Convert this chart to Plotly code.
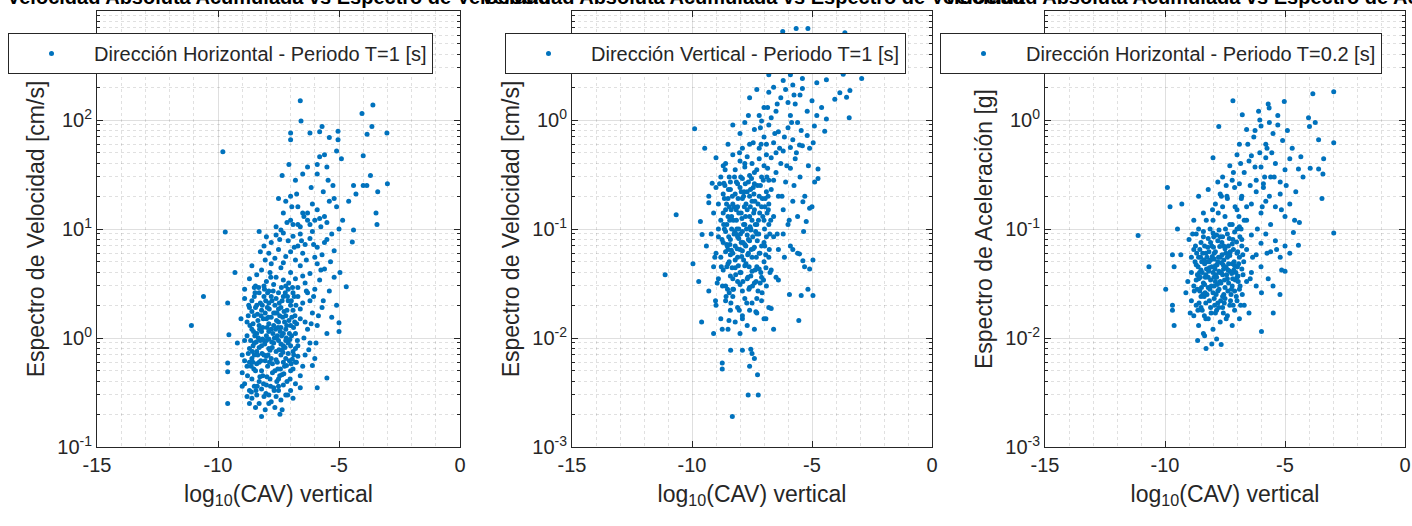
import plotly.graph_objects as go

# ---------------------------------------------------------------- data
# (log10(CAV) vertical, spectral ordinate) pairs for each panel
puntos_h_t1 = [
    (-6.6, 150), (-3.6, 137), (-4.05, 115), (-6.57, 98), (-3.64, 87), (-3.84, 74), (-3.02, 76),
    (-7.0, 76), (-7.0, 66), (-6.2, 76), (-5.8, 78), (-5.7, 87), (-5.04, 79), (-5.04, 66),
    (-5.4, 69), (-9.8, 51), (-5.1, 52), (-4.0, 47), (-5.8, 46), (-5.6, 48), (-4.9, 44),
    (-7.07, 39), (-6.3, 37), (-5.9, 39), (-5.5, 37), (-7.35, 31), (-6.8, 28), (-6.5, 32),
    (-5.9, 32), (-5.45, 28), (-4.4, 25), (-4.0, 25), (-3.85, 25), (-3.0, 26), (-3.4, 22),
    (-4.3, 21), (-3.7, 31), (-3.47, 14), (-3.43, 11), (-9.7, 9.4), (-4.4, 9.8), (-4.45, 7.6),
    (-10.6, 2.4), (-11.1, 1.3), (-9.3, 4.0), (-9.6, 2.1), (-9.55, 1.07), (-9.6, 0.59),
    (-9.6, 0.49), (-9.0, 0.48), (-9.6, 0.25), (-8.2, 0.19), (-7.44, 0.2), (-8.7, 0.25),
    (-7.9, 0.25), (-6.6, 0.35), (-5.9, 0.35), (-5.5, 0.43), (-6.1, 0.56), (-4.7, 2.95),
    (-4.96, 4.0), (-5.1, 2.0), (-5.0, 1.38), (-5.0, 1.15), (-5.3, 1.55),
    (-7.5, 19), (-7.2, 18), (-7.0, 20), (-6.7, 16), (-6.5, 14), (-6.3, 14), (-5.9, 15),
    (-5.6, 13), (-5.4, 18), (-5.2, 19), (-5.5, 11.5), (-5.8, 12.5), (-7.0, 12), (-6.9, 11),
    (-6.7, 11), (-7.6, 10.5), (-7.4, 9.8), (-6.6, 10.5), (-6.3, 12), (-6.0, 12), (-5.1, 16),
    (-6.1, 17), (-7.3, 14), (-6.2, 11), (-5.0, 10),
    (-8.3, 9.5), (-8.0, 8.5), (-7.8, 7.5), (-7.6, 8.8), (-7.3, 9.2), (-7.1, 7.8), (-6.9, 8.6),
    (-6.6, 9.0), (-6.4, 7.2), (-6.2, 8.2), (-5.9, 6.8), (-5.6, 7.5), (-5.3, 9.0), (-7.9, 6.0),
    (-7.5, 6.5), (-7.2, 5.6), (-6.8, 5.2), (-6.5, 6.0), (-6.0, 5.5), (-5.7, 5.8), (-5.2, 6.3),
    (-8.1, 7.0), (-7.0, 6.2), (-6.7, 7.0), (-6.1, 9.5), (-5.5, 8.0),
    (-8.6, 4.6), (-8.4, 3.8), (-8.2, 4.2), (-8.0, 3.3), (-7.8, 4.8), (-7.6, 3.6), (-7.4, 4.4),
    (-7.2, 3.0), (-7.0, 4.0), (-6.8, 3.5), (-6.6, 4.6), (-6.4, 3.2), (-6.2, 3.9), (-6.0, 2.8),
    (-5.8, 3.4), (-5.6, 4.3), (-5.4, 2.7), (-5.2, 3.6), (-8.5, 2.9), (-8.3, 2.6), (-7.9, 2.7),
    (-7.5, 2.6), (-7.3, 3.4), (-7.1, 2.8), (-6.9, 2.6), (-6.7, 2.9), (-6.3, 2.6), (-5.9, 4.8),
    (-8.1, 3.0), (-7.7, 3.1), (-7.3, 4.9), (-6.5, 3.7), (-8.7, 3.5), (-8.9, 2.8),
    (-8.9, 2.3), (-8.7, 1.9), (-8.6, 2.2), (-8.5, 1.6), (-8.4, 2.0), (-8.3, 1.3), (-8.2, 1.8),
    (-8.1, 2.4), (-8.0, 1.5), (-7.9, 2.1), (-7.8, 1.2), (-7.7, 1.7), (-7.6, 2.3), (-7.5, 1.4),
    (-7.4, 1.9), (-7.3, 1.1), (-7.2, 1.6), (-7.1, 2.2), (-7.0, 1.3), (-6.9, 1.8), (-6.8, 1.1),
    (-6.6, 1.5), (-6.5, 2.1), (-6.3, 1.2), (-6.1, 1.7), (-5.9, 1.3), (-5.7, 1.9), (-5.5, 1.1),
    (-8.8, 1.4), (-8.4, 1.1), (-8.0, 1.05), (-7.6, 1.0), (-7.4, 1.25), (-7.0, 2.0), (-6.7, 2.4),
    (-8.6, 1.2), (-8.2, 1.15), (-7.8, 2.4), (-7.3, 2.4), (-6.4, 1.4), (-8.5, 2.4), (-7.9, 1.35),
    (-7.5, 1.85), (-7.2, 1.2), (-6.2, 2.2),
    (-9.2, 0.9), (-9.0, 0.7), (-8.9, 0.95), (-8.8, 0.55), (-8.7, 0.8), (-8.6, 0.65), (-8.5, 0.9),
    (-8.45, 0.5), (-8.4, 0.75), (-8.3, 0.6), (-8.2, 0.85), (-8.15, 0.45), (-8.1, 0.7),
    (-8.0, 0.95), (-7.95, 0.55), (-7.9, 0.8), (-7.85, 0.42), (-7.8, 0.65), (-7.7, 0.9),
    (-7.65, 0.5), (-7.6, 0.75), (-7.55, 0.6), (-7.5, 0.95), (-7.45, 0.45), (-7.4, 0.7),
    (-7.3, 0.85), (-7.25, 0.55), (-7.2, 0.65), (-7.1, 0.9), (-7.0, 0.5), (-6.9, 0.75),
    (-6.8, 0.6), (-6.7, 0.85), (-6.5, 0.55), (-6.4, 0.7), (-6.2, 0.9), (-6.0, 0.65),
    (-8.6, 0.42), (-8.3, 0.4), (-7.9, 0.98), (-7.5, 0.42), (-7.15, 0.4), (-8.75, 0.72),
    (-8.05, 0.62), (-7.35, 0.78), (-7.75, 0.58), (-8.25, 0.95), (-8.55, 0.85), (-7.05, 0.62),
    (-6.6, 0.45),
    (-8.9, 0.38), (-8.7, 0.33), (-8.6, 0.28), (-8.5, 0.36), (-8.4, 0.3), (-8.3, 0.25),
    (-8.2, 0.34), (-8.1, 0.29), (-8.0, 0.37), (-7.9, 0.3), (-7.8, 0.26), (-7.7, 0.35),
    (-7.6, 0.29), (-7.5, 0.33), (-7.4, 0.27), (-7.3, 0.37), (-7.2, 0.3), (-7.0, 0.33),
    (-6.9, 0.28), (-8.8, 0.29), (-8.45, 0.23), (-7.65, 0.23), (-8.05, 0.22), (-7.35, 0.22),
    (-6.8, 0.38),
    (-8.75, 1.6), (-8.65, 0.95), (-8.55, 1.35), (-8.5, 0.7), (-8.45, 1.9), (-8.4, 0.58),
    (-8.35, 1.45), (-8.3, 0.82), (-8.25, 2.1), (-8.2, 0.5), (-8.15, 1.25), (-8.1, 0.95),
    (-8.05, 1.7), (-8.0, 0.68), (-7.95, 2.6), (-7.9, 1.15), (-7.85, 0.77), (-7.8, 1.55),
    (-7.75, 0.48), (-7.7, 1.3), (-7.65, 2.0), (-7.6, 0.63), (-7.55, 1.05), (-7.5, 0.36),
    (-7.45, 1.6), (-7.4, 0.88), (-7.35, 2.2), (-7.3, 0.6), (-7.25, 1.4), (-7.2, 0.95),
    (-7.15, 1.8), (-7.1, 0.72), (-7.05, 1.1), (-7.0, 0.85), (-6.95, 1.55), (-6.9, 0.52),
    (-6.85, 2.4), (-6.8, 0.8), (-6.75, 1.35), (-6.7, 0.68),
    (-8.7, 0.6), (-8.6, 1.75), (-8.48, 1.05), (-8.38, 0.36), (-8.28, 1.2), (-8.18, 0.72),
    (-8.08, 2.8), (-7.98, 0.44), (-7.88, 1.85), (-7.78, 0.92), (-7.68, 0.33), (-7.58, 1.45),
    (-7.48, 0.78), (-7.38, 2.9), (-7.28, 0.47), (-7.18, 1.0), (-7.08, 3.2), (-6.98, 0.58),
    (-6.88, 1.25), (-6.78, 2.0),
    (-8.62, 0.32), (-8.42, 0.92), (-8.22, 1.6), (-8.02, 0.31), (-7.82, 3.6), (-7.62, 1.2),
    (-7.42, 0.52), (-7.22, 2.6), (-7.02, 0.42), (-6.82, 1.6), (-8.52, 0.52), (-8.32, 2.9),
    (-8.12, 0.38), (-7.92, 1.55), (-7.72, 2.7), (-7.52, 1.25), (-7.32, 0.74), (-7.12, 0.3),
    (-6.92, 2.9), (-6.72, 0.95),
    (-8.8, 1.05), (-8.9, 0.62), (-9.05, 1.5), (-9.0, 0.36), (-6.6, 1.85), (-6.45, 1.0),
    (-6.35, 2.7), (-6.25, 0.78), (-6.15, 1.35), (-6.05, 2.4), (-5.95, 0.9), (-5.85, 1.6),
    (-5.75, 4.2), (-5.65, 2.2), (-6.35, 5.2), (-6.55, 7.8), (-6.85, 6.8), (-7.15, 11.5),
    (-7.45, 8.0), (-7.65, 5.4), (-7.85, 4.0), (-8.05, 5.2), (-8.25, 6.2), (-8.45, 3.0),
    (-6.05, 7.2), (-5.75, 10.5), (-5.35, 5.0), (-6.45, 13), (-6.95, 16), (-5.65, 22),
    (-6.15, 24), (-6.75, 21), (-5.25, 25), (-4.85, 12), (-4.6, 18),
]
nucleo_h_t1 = [
    (-8.78, 0.45), (-8.68, 1.3), (-8.58, 0.75), (-8.47, 2.6), (-8.37, 1.65), (-8.27, 0.44),
    (-8.17, 2.0), (-8.07, 0.88), (-7.97, 1.25), (-7.87, 0.6), (-7.77, 2.2), (-7.67, 1.0),
    (-7.57, 0.4), (-7.47, 2.1), (-7.37, 1.05), (-7.27, 1.75), (-7.17, 0.56), (-7.07, 1.45),
    (-6.97, 2.2), (-6.87, 0.7),
    (-8.73, 2.0), (-8.63, 0.55), (-8.53, 1.15), (-8.43, 0.33), (-8.33, 1.0), (-8.23, 0.62),
    (-8.13, 1.5), (-8.03, 2.2), (-7.93, 0.7), (-7.83, 0.36), (-7.73, 1.1), (-7.63, 1.7),
    (-7.53, 0.52), (-7.43, 1.15), (-7.33, 1.55), (-7.23, 0.82), (-7.13, 2.4), (-7.03, 0.97),
    (-6.93, 0.64), (-6.83, 1.4),
    (-8.56, 0.6), (-8.36, 0.7), (-8.16, 0.98), (-7.96, 1.9), (-7.76, 0.82), (-7.56, 1.7),
    (-7.36, 0.46), (-7.16, 1.3), (-6.96, 1.05), (-6.76, 0.6),
]

puntos_v_t1 = [
    (-8.32, 0.0019), (-7.66, 0.003), (-7.24, 0.003), (-7.27, 0.0046), (-7.6, 0.0055),
    (-8.74, 0.0059), (-8.74, 0.0052), (-8.39, 0.0077), (-7.9, 0.0077), (-7.5, 0.0072),
    (-7.55, 0.0079), (-7.4, 0.0065), (-9.6, 0.014), (-9.1, 0.011), (-8.74, 0.012),
    (-8.46, 0.0145), (-7.9, 0.015), (-7.34, 0.0174), (-6.92, 0.015), (-6.7, 0.0186),
    (-5.55, 0.0145), (-5.94, 0.025), (-5.45, 0.0245), (-5.17, 0.028), (-4.96, 0.0245),
    (-11.12, 0.038), (-10.66, 0.135), (-9.96, 0.048), (-9.72, 0.033), (-9.3, 0.027),
    (-9.02, 0.022), (-9.89, 0.83), (-9.47, 0.55), (-9.58, 0.089), (-9.65, 0.117), (-9.3, 0.174),
    (-9.16, 0.263), (-8.67, 0.263), (-5.31, 0.045), (-5.1, 0.043), (-4.96, 0.052),
    (-5.38, 0.051), (-5.8, 0.065), (-5.52, 0.059), (-4.75, 0.29), (-4.75, 0.355), (-4.89, 0.27),
    (-5.38, 0.178), (-5.1, 0.155), (-5.24, 0.117), (-5.52, 0.59), (-5.1, 0.55), (-4.47, 0.79),
    (-4.4, 1.02), (-3.45, 1.05), (-2.93, 2.4), (-3.42, 1.86), (-4.05, 1.55), (-3.56, 1.62),
    (-3.84, 1.78), (-4.4, 2.34), (-3.7, 2.63), (-3.2, 3.0), (-4.26, 3.1), (-4.12, 3.8),
    (-3.91, 4.5), (-5.66, 6.9), (-5.17, 6.9), (-3.63, 6.3), (-6.22, 6.5),
    (-7.0, 3.6), (-6.6, 4.1), (-6.3, 3.2), (-6.0, 3.5), (-5.9, 2.6), (-5.6, 3.0), (-5.3, 3.9),
    (-5.0, 4.3), (-5.4, 2.4), (-5.8, 2.1), (-6.2, 2.3), (-6.6, 2.0), (-7.1, 2.8), (-4.8, 2.2),
    (-4.6, 3.1), (-6.8, 2.6), (-5.1, 2.9),
    (-7.6, 1.6), (-7.3, 1.9), (-7.0, 1.3), (-6.8, 1.8), (-6.5, 1.2), (-6.3, 1.6), (-6.1, 1.9),
    (-5.9, 1.1), (-5.7, 1.4), (-5.5, 1.7), (-5.2, 1.2), (-5.0, 1.5), (-4.8, 1.1), (-6.7, 1.05),
    (-7.2, 1.1), (-6.0, 1.45), (-5.4, 1.95), (-4.6, 1.3),
    (-8.3, 0.9), (-8.0, 0.75), (-7.8, 0.95), (-7.6, 0.6), (-7.4, 0.82), (-7.2, 0.55), (-7.0, 0.7),
    (-6.8, 0.9), (-6.6, 0.62), (-6.4, 0.78), (-6.2, 0.52), (-6.0, 0.85), (-5.8, 0.66),
    (-5.6, 0.95), (-5.4, 0.58), (-5.2, 0.72), (-4.9, 0.88), (-7.9, 0.55), (-7.1, 0.98),
    (-6.5, 0.5), (-5.9, 0.56), (-8.5, 0.6), (-6.9, 0.6),
    (-9.0, 0.45), (-8.8, 0.3), (-8.6, 0.4), (-8.4, 0.27), (-8.3, 0.48), (-8.2, 0.35), (-8.0, 0.42),
    (-7.9, 0.29), (-7.8, 0.37), (-7.7, 0.46), (-7.6, 0.31), (-7.5, 0.4), (-7.4, 0.26),
    (-7.3, 0.35), (-7.2, 0.44), (-7.1, 0.3), (-7.0, 0.38), (-6.8, 0.28), (-6.7, 0.45),
    (-6.5, 0.33), (-6.3, 0.4), (-6.1, 0.27), (-5.9, 0.36), (-5.7, 0.44), (-5.5, 0.3),
    (-8.1, 0.26), (-7.65, 0.27), (-6.9, 0.48), (-8.7, 0.38),
    (-9.3, 0.2), (-9.1, 0.14), (-9.0, 0.24), (-8.9, 0.17), (-8.8, 0.12), (-8.7, 0.21), (-8.6, 0.15),
    (-8.55, 0.11), (-8.5, 0.19), (-8.4, 0.23), (-8.35, 0.13), (-8.3, 0.17), (-8.2, 0.21),
    (-8.15, 0.12), (-8.1, 0.16), (-8.0, 0.24), (-7.95, 0.14), (-7.9, 0.19), (-7.8, 0.11),
    (-7.75, 0.17), (-7.7, 0.22), (-7.6, 0.13), (-7.5, 0.18), (-7.45, 0.24), (-7.4, 0.15),
    (-7.3, 0.11), (-7.2, 0.2), (-7.1, 0.16), (-7.0, 0.12), (-6.9, 0.22), (-6.8, 0.17),
    (-6.6, 0.13), (-6.4, 0.2), (-6.2, 0.15), (-6.0, 0.11), (-5.8, 0.18), (-5.6, 0.13),
    (-5.3, 0.2), (-5.0, 0.16), (-8.65, 0.1), (-8.05, 0.1), (-7.55, 0.1), (-8.45, 0.16),
    (-7.85, 0.2),
    (-9.4, 0.07), (-9.2, 0.09), (-9.0, 0.06), (-8.9, 0.085), (-8.8, 0.055), (-8.7, 0.075),
    (-8.6, 0.095), (-8.5, 0.065), (-8.45, 0.05), (-8.4, 0.08), (-8.3, 0.06), (-8.25, 0.09),
    (-8.2, 0.07), (-8.1, 0.055), (-8.05, 0.082), (-8.0, 0.065), (-7.9, 0.095), (-7.85, 0.052),
    (-7.8, 0.072), (-7.7, 0.088), (-7.65, 0.06), (-7.6, 0.078), (-7.5, 0.055), (-7.4, 0.068),
    (-7.3, 0.09), (-7.2, 0.06), (-7.0, 0.075), (-6.8, 0.055), (-6.6, 0.085), (-6.4, 0.065),
    (-6.2, 0.09), (-5.9, 0.07), (-5.6, 0.06), (-8.55, 0.072), (-7.95, 0.075), (-7.55, 0.098),
    (-9.1, 0.045), (-8.9, 0.035), (-8.7, 0.042), (-8.6, 0.03), (-8.5, 0.048), (-8.4, 0.037),
    (-8.3, 0.028), (-8.2, 0.044), (-8.1, 0.033), (-8.0, 0.04), (-7.9, 0.027), (-7.8, 0.046),
    (-7.7, 0.035), (-7.6, 0.029), (-7.5, 0.041), (-7.4, 0.032), (-7.3, 0.045), (-7.1, 0.036),
    (-6.9, 0.03), (-6.7, 0.042), (-6.4, 0.034), (-8.45, 0.026), (-7.25, 0.027),
    (-9.0, 0.02), (-8.8, 0.015), (-8.6, 0.022), (-8.5, 0.012), (-8.4, 0.018), (-8.3, 0.024),
    (-8.2, 0.014), (-8.1, 0.019), (-8.0, 0.011), (-7.9, 0.016), (-7.8, 0.023), (-7.7, 0.013),
    (-7.6, 0.018), (-7.5, 0.021), (-7.4, 0.012), (-7.3, 0.017), (-7.1, 0.022), (-7.0, 0.015),
    (-6.8, 0.019), (-6.6, 0.012),
    (-8.75, 0.08), (-8.65, 0.19), (-8.55, 0.045), (-8.5, 0.13), (-8.45, 0.3), (-8.4, 0.058),
    (-8.35, 0.1), (-8.3, 0.035), (-8.25, 0.16), (-8.2, 0.052), (-8.15, 0.27), (-8.1, 0.085),
    (-8.05, 0.14), (-8.0, 0.031), (-7.95, 0.22), (-7.9, 0.063), (-7.85, 0.11), (-7.8, 0.4),
    (-7.75, 0.048), (-7.7, 0.15), (-7.65, 0.08), (-7.6, 0.2), (-7.55, 0.037), (-7.5, 0.12),
    (-7.45, 0.066), (-7.4, 0.33), (-7.35, 0.095), (-7.3, 0.023), (-7.25, 0.17), (-7.2, 0.043),
    (-7.15, 0.25), (-7.1, 0.07), (-7.05, 0.13), (-7.0, 0.05), (-6.95, 0.19), (-6.9, 0.085),
    (-6.85, 0.36), (-6.8, 0.11), (-6.75, 0.04), (-6.7, 0.23),
    (-8.7, 0.14), (-8.6, 0.062), (-8.48, 0.23), (-8.38, 0.021), (-8.28, 0.12), (-8.18, 0.038),
    (-8.08, 0.19), (-7.98, 0.09), (-7.88, 0.033), (-7.78, 0.26), (-7.68, 0.058), (-7.58, 0.105),
    (-7.48, 0.03), (-7.38, 0.18), (-7.28, 0.078), (-7.18, 0.14), (-7.08, 0.026), (-6.98, 0.1),
    (-6.88, 0.3), (-6.78, 0.065),
    (-8.62, 0.35), (-8.42, 0.072), (-8.22, 0.095), (-8.02, 0.5), (-7.82, 0.16), (-7.62, 0.045),
    (-7.42, 0.21), (-7.22, 0.09), (-7.02, 0.034), (-6.82, 0.15), (-8.52, 0.028), (-8.32, 0.2),
    (-8.12, 0.066), (-7.92, 0.125), (-7.72, 0.021), (-7.52, 0.29), (-7.32, 0.055), (-7.12, 0.6),
    (-6.92, 0.044), (-6.72, 0.12),
    (-8.9, 0.1), (-9.05, 0.055), (-8.85, 0.26), (-8.95, 0.032), (-6.6, 0.28), (-6.45, 0.09),
    (-6.35, 0.55), (-6.25, 0.2), (-6.15, 0.7), (-6.05, 0.38), (-5.95, 0.12), (-5.85, 0.95),
    (-5.75, 0.25), (-5.65, 0.5), (-6.55, 0.75), (-6.85, 1.3), (-7.15, 0.85), (-7.45, 0.62),
    (-7.65, 1.1), (-6.45, 1.4), (-6.25, 2.8), (-5.75, 1.7), (-5.45, 0.8), (-5.55, 4.0),
    (-6.05, 4.8), (-4.95, 0.62), (-5.15, 0.38), (-5.35, 0.095), (-6.15, 0.055), (-6.5, 0.036),
]
nucleo_v_t1 = [
    (-8.78, 0.045), (-8.68, 0.11), (-8.58, 0.024), (-8.47, 0.085), (-8.37, 0.15), (-8.27, 0.028),
    (-8.17, 0.09), (-8.07, 0.046), (-7.97, 0.3), (-7.87, 0.075), (-7.77, 0.13), (-7.67, 0.036),
    (-7.57, 0.16), (-7.47, 0.085), (-7.37, 0.042), (-7.27, 0.25), (-7.17, 0.06), (-7.07, 0.19),
    (-6.97, 0.07), (-6.87, 0.14),
    (-8.73, 0.03), (-8.63, 0.25), (-8.53, 0.07), (-8.43, 0.12), (-8.33, 0.044), (-8.23, 0.3),
    (-8.13, 0.1), (-8.03, 0.018), (-7.93, 0.056), (-7.83, 0.22), (-7.73, 0.1), (-7.63, 0.028),
    (-7.53, 0.065), (-7.43, 0.14), (-7.33, 0.033), (-7.23, 0.12), (-7.13, 0.04), (-7.03, 0.28),
    (-6.93, 0.058), (-6.83, 0.2),
    (-8.56, 0.17), (-8.36, 0.064), (-8.16, 0.15), (-7.96, 0.04), (-7.76, 0.07), (-7.56, 0.23),
    (-7.36, 0.11), (-7.16, 0.032), (-6.96, 0.16), (-6.76, 0.09),
]

puntos_h_t02 = [
    (-7.17, 1.5), (-5.7, 1.4), (-5.03, 1.48), (-6.78, 1.12), (-5.66, 1.29), (-4.02, 1.05),
    (-3.84, 1.74), (-2.97, 1.82), (-6.1, 1.2), (-5.3, 1.1),
    (-7.76, 0.87), (-3.74, 0.95), (-3.98, 0.87), (-3.6, 0.66), (-2.97, 0.62), (-6.6, 0.82),
    (-6.3, 0.7), (-6.0, 0.88), (-5.8, 0.6), (-5.5, 0.75), (-5.3, 0.9), (-5.1, 0.65), (-4.9, 0.8),
    (-6.9, 0.6), (-5.65, 0.95), (-4.7, 0.55),
    (-3.39, 0.44), (-3.42, 0.32), (-4.44, 0.355), (-3.95, 0.36), (-3.6, 0.355), (-4.34, 0.46),
    (-8.0, 0.45), (-7.6, 0.3), (-7.3, 0.38), (-7.0, 0.48), (-6.7, 0.33), (-6.5, 0.42),
    (-6.2, 0.28), (-6.0, 0.37), (-5.8, 0.45), (-5.6, 0.3), (-5.4, 0.4), (-5.2, 0.27), (-5.0, 0.35),
    (-4.8, 0.44), (-7.8, 0.27), (-6.9, 0.26), (-6.4, 0.47), (-5.9, 0.26), (-7.2, 0.28),
    (-9.9, 0.24), (-9.79, 0.16), (-9.3, 0.17), (-9.48, 0.1), (-3.46, 0.19), (-8.6, 0.2),
    (-8.4, 0.14), (-8.2, 0.23), (-8.0, 0.12), (-7.9, 0.17), (-7.7, 0.21), (-7.5, 0.13),
    (-7.4, 0.19), (-7.2, 0.11), (-7.1, 0.24), (-7.0, 0.15), (-6.8, 0.2), (-6.6, 0.12),
    (-6.4, 0.17), (-6.2, 0.22), (-6.0, 0.14), (-5.8, 0.18), (-5.6, 0.11), (-5.4, 0.16),
    (-5.2, 0.21), (-5.0, 0.13), (-4.8, 0.17), (-4.6, 0.12), (-8.8, 0.12), (-7.6, 0.16),
    (-6.9, 0.105), (-5.9, 0.24), (-4.65, 0.093), (-4.4, 0.115),
    (-9.69, 0.058), (-9.34, 0.058), (-11.12, 0.087), (-4.44, 0.071), (-2.97, 0.092),
    (-9.0, 0.08), (-8.8, 0.065), (-8.7, 0.09), (-8.6, 0.055), (-8.5, 0.075), (-8.4, 0.095),
    (-8.3, 0.06), (-8.2, 0.082), (-8.1, 0.052), (-8.05, 0.07), (-8.0, 0.092), (-7.9, 0.062),
    (-7.8, 0.078), (-7.75, 0.098), (-7.7, 0.055), (-7.6, 0.085), (-7.5, 0.066), (-7.4, 0.09),
    (-7.3, 0.057), (-7.2, 0.073), (-7.1, 0.094), (-7.0, 0.06), (-6.8, 0.08), (-6.6, 0.065),
    (-6.4, 0.088), (-6.2, 0.058), (-6.0, 0.074), (-5.8, 0.09), (-5.6, 0.062), (-5.4, 0.078),
    (-5.2, 0.055), (-5.0, 0.07), (-4.8, 0.06), (-8.35, 0.07), (-7.85, 0.088), (-7.55, 0.052),
    (-7.95, 0.053),
    (-10.67, 0.045), (-9.62, 0.045), (-9.97, 0.028), (-9.13, 0.026), (-5.14, 0.042),
    (-5.0, 0.041), (-5.98, 0.026), (-5.21, 0.025),
    (-8.9, 0.04), (-8.8, 0.03), (-8.7, 0.047), (-8.6, 0.035), (-8.55, 0.027), (-8.5, 0.042),
    (-8.4, 0.032), (-8.35, 0.048), (-8.3, 0.038), (-8.2, 0.029), (-8.15, 0.044), (-8.1, 0.034),
    (-8.0, 0.04), (-7.95, 0.03), (-7.9, 0.046), (-7.85, 0.036), (-7.8, 0.027), (-7.75, 0.041),
    (-7.7, 0.033), (-7.65, 0.049), (-7.6, 0.038), (-7.5, 0.029), (-7.45, 0.044), (-7.4, 0.035),
    (-7.3, 0.041), (-7.2, 0.03), (-7.1, 0.046), (-7.0, 0.036), (-6.9, 0.028), (-6.8, 0.043),
    (-6.6, 0.033), (-6.4, 0.04), (-6.2, 0.03), (-6.0, 0.045), (-5.7, 0.035), (-5.5, 0.03),
    (-8.25, 0.025), (-7.55, 0.025), (-8.65, 0.038), (-7.35, 0.048),
    (-9.69, 0.02), (-9.69, 0.018), (-9.62, 0.013), (-8.64, 0.0095), (-8.29, 0.008),
    (-7.66, 0.0087), (-5.98, 0.0115), (-5.49, 0.017),
    (-8.9, 0.022), (-8.8, 0.016), (-8.7, 0.02), (-8.6, 0.013), (-8.5, 0.024), (-8.45, 0.018),
    (-8.4, 0.011), (-8.3, 0.021), (-8.2, 0.015), (-8.1, 0.019), (-8.0, 0.012), (-7.95, 0.023),
    (-7.9, 0.017), (-7.8, 0.021), (-7.7, 0.014), (-7.6, 0.019), (-7.5, 0.023), (-7.4, 0.016),
    (-7.3, 0.02), (-7.2, 0.013), (-7.1, 0.018), (-7.0, 0.022), (-6.9, 0.015), (-6.7, 0.02),
    (-6.5, 0.017), (-8.35, 0.0105), (-7.85, 0.0098), (-8.05, 0.0088),
    (-8.75, 0.05), (-8.65, 0.028), (-8.55, 0.065), (-8.5, 0.019), (-8.45, 0.04), (-8.4, 0.085),
    (-8.35, 0.031), (-8.3, 0.015), (-8.25, 0.055), (-8.2, 0.036), (-8.15, 0.022), (-8.1, 0.075),
    (-8.05, 0.045), (-8.0, 0.026), (-7.95, 0.06), (-7.9, 0.033), (-7.85, 0.018), (-7.8, 0.05),
    (-7.75, 0.028), (-7.7, 0.085), (-7.65, 0.04), (-7.6, 0.024), (-7.55, 0.07), (-7.5, 0.045),
    (-7.45, 0.015), (-7.4, 0.055), (-7.35, 0.032), (-7.3, 0.11), (-7.25, 0.025), (-7.2, 0.048),
    (-7.15, 0.065), (-7.1, 0.027), (-7.05, 0.04), (-7.0, 0.1), (-6.95, 0.033), (-6.9, 0.055),
    (-6.85, 0.02), (-6.8, 0.07), (-6.75, 0.038), (-6.7, 0.12),
    (-8.7, 0.034), (-8.6, 0.1), (-8.48, 0.029), (-8.38, 0.052), (-8.28, 0.12), (-8.18, 0.041),
    (-8.08, 0.017), (-7.98, 0.068), (-7.88, 0.038), (-7.78, 0.14), (-7.68, 0.022), (-7.58, 0.047),
    (-7.48, 0.1), (-7.38, 0.027), (-7.28, 0.062), (-7.18, 0.035), (-7.08, 0.16), (-6.98, 0.045),
    (-6.88, 0.085), (-6.78, 0.025),
    (-8.62, 0.045), (-8.42, 0.025), (-8.22, 0.068), (-8.02, 0.15), (-7.82, 0.031), (-7.62, 0.058),
    (-7.42, 0.2), (-7.22, 0.039), (-7.02, 0.076), (-6.82, 0.19), (-8.52, 0.055), (-8.32, 0.036),
    (-8.12, 0.1), (-7.92, 0.043), (-7.72, 0.069), (-7.52, 0.034), (-7.32, 0.082), (-7.12, 0.05),
    (-6.92, 0.13), (-6.72, 0.05),
    (-8.9, 0.055), (-9.05, 0.033), (-8.85, 0.09), (-8.95, 0.017), (-6.6, 0.16), (-6.45, 0.25),
    (-6.35, 0.055), (-6.25, 0.37), (-6.15, 0.1), (-6.05, 0.5), (-5.95, 0.16), (-5.85, 0.3),
    (-5.75, 0.06), (-5.65, 0.2), (-6.55, 0.6), (-6.85, 0.4), (-7.15, 0.33), (-7.45, 0.25),
    (-7.65, 0.2), (-6.45, 0.035), (-6.25, 0.8), (-5.75, 0.55), (-5.45, 0.3), (-5.55, 0.5),
    (-6.05, 1.0), (-4.95, 0.25), (-5.15, 0.15), (-5.35, 0.065), (-4.55, 0.22), (-4.25, 0.3),
]
nucleo_h_t02 = [
    (-8.78, 0.027), (-8.68, 0.06), (-8.58, 0.021), (-8.47, 0.05), (-8.37, 0.024), (-8.27, 0.043),
    (-8.17, 0.062), (-8.07, 0.03), (-7.97, 0.085), (-7.87, 0.025), (-7.77, 0.055), (-7.67, 0.032),
    (-7.57, 0.017), (-7.47, 0.06), (-7.37, 0.042), (-7.27, 0.022), (-7.17, 0.08), (-7.07, 0.034),
    (-6.97, 0.062), (-6.87, 0.03),
    (-8.73, 0.07), (-8.63, 0.018), (-8.53, 0.036), (-8.43, 0.06), (-8.33, 0.026), (-8.23, 0.05),
    (-8.13, 0.028), (-8.03, 0.056), (-7.93, 0.02), (-7.83, 0.047), (-7.73, 0.04), (-7.63, 0.075),
    (-7.53, 0.021), (-7.43, 0.038), (-7.33, 0.06), (-7.23, 0.028), (-7.13, 0.042), (-7.03, 0.024),
    (-6.93, 0.048), (-6.83, 0.1),
    (-8.56, 0.04), (-8.36, 0.016), (-8.16, 0.05), (-7.96, 0.036), (-7.76, 0.019), (-7.56, 0.043),
    (-7.36, 0.07), (-7.16, 0.02), (-6.96, 0.037), (-6.76, 0.058),
]

titulos = [
    "Velocidad Absoluta Acumulada vs Espectro de Velocidad",
    "Velocidad Absoluta Acumulada vs Espectro de Velocidad",
    "Velocidad Absoluta Acumulada vs Espectro de Aceleración",
]
leyendas = [
    "Dirección Horizontal - Periodo T=1 [s]",
    "Dirección Vertical - Periodo T=1 [s]",
    "Dirección Horizontal - Periodo T=0.2 [s]",
]
etiquetas_y = [
    "Espectro de Velocidad [cm/s]",
    "Espectro de Velocidad [cm/s]",
    "Espectro de Aceleración [g]",
]
etiqueta_x = "log<sub>10</sub>(CAV) vertical"

cav_ticks = [-15, -10, -5, 0]
cav_tick_text = ["-15", "-10", "-5", "0"]
exp_h_t1 = [-1, 0, 1, 2, 3]
exp_otros = [-3, -2, -1, 0, 1]

# ---------------------------------------------------------------- layout
W, H = 1412, 526
AZUL = "#0072BD"
TEXTO = "#262626"
FUENTE = "Liberation Sans, Arial, Helvetica, sans-serif"

# panel frames in pixels: (left, right)
marcos = [(97, 460), (572, 932), (1045, 1405)]
top_px, bottom_px = 11, 447
leg_left_px = [8, 505, 940]

series = [puntos_h_t1 + nucleo_h_t1, puntos_v_t1 + nucleo_v_t1, puntos_h_t02 + nucleo_h_t02]
exponentes = [exp_h_t1, exp_otros, exp_otros]

fig = go.Figure()

for i, (pts, exps) in enumerate(zip(series, exponentes)):
    n = "" if i == 0 else str(i + 1)
    fig.add_trace(go.Scatter(
        x=[p[0] for p in pts],
        y=[p[1] for p in pts],
        mode="markers",
        marker=dict(color=AZUL, size=5, line=dict(width=0)),
        name=leyendas[i],
        xaxis="x" + n,
        yaxis="y" + n,
        legend="legend" + n,
        showlegend=True,
    ))

    left, right = marcos[i]
    dom_x = [left / W, right / W]
    dom_y = [1 - bottom_px / H, 1 - top_px / H]

    x_minor = [v for v in range(-14, 0) if v % 5 != 0]
    y_major = [10.0 ** e for e in exps]
    y_minor = [k * 10.0 ** e for e in exps[:-1] for k in range(2, 10)]
    y_text = ["10<sup>%d</sup>" % e for e in exps]

    ejes_comunes = dict(
        showline=True, linecolor=TEXTO, linewidth=1, mirror="allticks",
        ticks="inside", ticklen=6, tickcolor=TEXTO, tickwidth=1,
        showgrid=True, gridcolor="rgba(38,38,38,0.15)", gridwidth=1,
        zeroline=False, automargin=False,
        tickfont=dict(family=FUENTE, size=20, color=TEXTO),
    )

    fig.layout["xaxis" + n] = dict(
        ejes_comunes,
        domain=dom_x, anchor="y" + n, range=[-15, 0],
        tickmode="array", tickvals=cav_ticks, ticktext=cav_tick_text,
        minor=dict(tickmode="array", tickvals=x_minor, showgrid=True,
                   gridcolor="rgba(38,38,38,0.14)", griddash="dot", gridwidth=1,
                   ticks="", ticklen=0),
        title=dict(text=etiqueta_x, font=dict(family=FUENTE, size=23, color=TEXTO),
                   standoff=10),
    )
    fig.layout["yaxis" + n] = dict(
        ejes_comunes,
        domain=dom_y, anchor="x" + n, type="log", range=[exps[0], exps[-1]],
        tickmode="array", tickvals=y_major, ticktext=y_text,
        minor=dict(tickmode="array", tickvals=y_minor, showgrid=True,
                   gridcolor="rgba(38,38,38,0.14)", griddash="dot", gridwidth=1,
                   ticks="inside", ticklen=3, tickcolor=TEXTO),
        title=dict(text=etiquetas_y[i], font=dict(family=FUENTE, size=23, color=TEXTO),
                   standoff=6),
    )

    fig.layout["legend" + n] = dict(
        x=leg_left_px[i] / W, y=1 - 33 / H, xref="paper", yref="paper",
        xanchor="left", yanchor="top",
        bgcolor="white", bordercolor=TEXTO, borderwidth=1,
        font=dict(family=FUENTE, size=20, color=TEXTO),
        itemwidth=75,
    )

    fig.add_annotation(
        text="<b>%s</b>" % titulos[i],
        x=(left + right) / 2 / W, y=1.0, xref="paper", yref="paper",
        xanchor="center", yanchor="middle", showarrow=False, yshift=3,
        font=dict(family=FUENTE, size=20, color="#000000"),
    )

fig.update_layout(
    width=W, height=H,
    margin=dict(l=0, r=0, t=0, b=0),
    paper_bgcolor="white", plot_bgcolor="white",
    font=dict(family=FUENTE, color=TEXTO),
)

fig.write_html("out.html")
